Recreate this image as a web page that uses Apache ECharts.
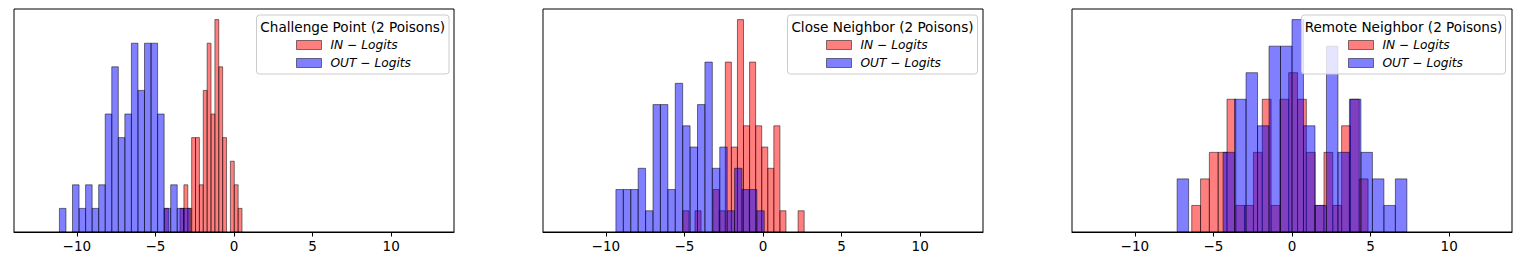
<!DOCTYPE html>
<html><head><meta charset="utf-8">
<script src="https://cdn.jsdelivr.net/npm/echarts@6/dist/echarts.min.js"></script>
<style>html,body{margin:0;padding:0;background:#fff}#c{width:1522px;height:265px}</style>
</head><body><div id="c"></div>
<script>
// ---- data ----
const xTicks = [-10, -5, 0, 5, 10];
const seriesNames = ['IN − Logits', 'OUT − Logits'];
const panelTitles = ['Challenge Point (2 Poisons)', 'Close Neighbor (2 Poisons)', 'Remote Neighbor (2 Poisons)'];

const cpInRange = [-4.42, 0.51];
const cpInCounts = [1,0,0,0,1,2,1,4,4,2,6,8,5,9,7,4,0,3,2,1];
const cpOutRange = [-11.11, -2.78];
const cpOutCounts = [1,0,2,1,2,1,2,5,7,4,5,8,6,8,8,5,1,2,1,1];

const cnInRange = [-5.10, 2.62];
const cnInCounts = [1,0,1,0,0,2,1,8,4,10,5,8,5,4,3,5,1,0,0,1];
const cnOutRange = [-9.36, 0.08];
const cnOutCounts = [2,2,2,3,1,6,6,2,7,5,4,6,8,3,4,1,3,2,2,1];

const rnInRange = [-6.38, 4.84];
const rnInCounts = [1,2,3,3,5,1,1,3,5,1,5,6,5,3,1,3,1,4,5,2];
const rnOutRange = [-7.31, 7.31];
const rnOutCounts = [2,0,0,0,3,5,6,4,7,7,8,4,1,7,3,5,3,2,1,2];

// ---- layout / style ----
const FONT = 'DejaVu Sans';
const IN_COLOR = 'rgba(255,0,0,0.5)';
const OUT_COLOR = 'rgba(0,0,255,0.5)';
const EDGE = 'rgba(0,0,0,0.5)';
const gridLefts = [14, 543, 1072];
const gridWidth = 440, gridTop = 9, gridHeight = 223;
const legendBoxes = [[256.5, 15, 192.5, 59], [787.5, 15, 190, 59], [1301.5, 15, 204, 59]];
const legendIconLeft = [296, 826, 1348];

const hists = [
  [[cpInRange, cpInCounts], [cpOutRange, cpOutCounts]],
  [[cnInRange, cnInCounts], [cnOutRange, cnOutCounts]],
  [[rnInRange, rnInCounts], [rnOutRange, rnOutCounts]]
];

function toBins(range, counts) {
  const w = (range[1] - range[0]) / counts.length;
  return counts.map((c, i) => [range[0] + i * w, range[0] + (i + 1) * w, c]);
}

function histRender(color) {
  return function (params, api) {
    const c = api.value(2);
    if (!c) return null;
    const p0 = api.coord([api.value(0), c]);
    const p1 = api.coord([api.value(1), 0]);
    return {
      type: 'rect',
      shape: { x: p0[0], y: p0[1], width: p1[0] - p0[0], height: p1[1] - p0[1] },
      style: { fill: color, stroke: EDGE, lineWidth: 1 }
    };
  };
}

const grids = [], xAxes = [], yAxes = [], series = [], legends = [], graphics = [];
hists.forEach((pair, k) => {
  grids.push({ left: gridLefts[k], top: gridTop, width: gridWidth, height: gridHeight,
    show: true, borderColor: '#000', borderWidth: 1, backgroundColor: 'transparent' });
  xAxes.push({ type: 'value', gridIndex: k, min: -14, max: 14,
    axisLine: { show: true, lineStyle: { color: '#000', width: 1 } },
    splitLine: { show: false },
    axisTick: { show: true, inside: false, length: 4.5, customValues: xTicks, lineStyle: { color: '#000', width: 1 } },
    axisLabel: { show: true, customValues: xTicks, margin: 7, fontFamily: FONT, fontSize: 13.5, color: '#000',
      formatter: v => (v < 0 ? '\u2212' + Math.abs(v) : String(v)) }
  });
  const peak = Math.max(...pair[0][1], ...pair[1][1]);
  yAxes.push({ type: 'value', gridIndex: k, min: 0, max: peak * 1.05,
    axisLine: { show: false }, axisTick: { show: false }, axisLabel: { show: false }, splitLine: { show: false } });
  [IN_COLOR, OUT_COLOR].forEach((col, j) => {
    series.push({
      type: 'custom', name: seriesNames[j], xAxisIndex: k, yAxisIndex: k,
      data: toBins(pair[j][0], pair[j][1]),
      encode: { x: [0, 1], y: 2 },
      itemStyle: { color: col, borderColor: EDGE, borderWidth: 1 },
      renderItem: histRender(col), silent: true, z: 2
    });
  });
  const b = legendBoxes[k];
  legends.push({
    left: legendIconLeft[k], top: 38, orient: 'vertical', padding: 0,
    itemWidth: 25, itemHeight: 9, itemGap: 4, icon: 'rect', selectedMode: false, z: 6,
    textStyle: { fontFamily: FONT, fontSize: 12.2, fontStyle: 'italic', color: '#000', lineHeight: 14, padding: [0, 0, 0, 4] },
    data: seriesNames.map((n, j) => ({ name: n, icon: 'rect',
      itemStyle: { color: j ? OUT_COLOR : IN_COLOR, borderColor: EDGE, borderWidth: 1 } }))
  });
  graphics.push({ type: 'rect', z: 5, shape: { x: b[0], y: b[1], width: b[2], height: b[3], r: 3 },
    style: { fill: 'rgba(255,255,255,0.8)', stroke: '#cccccc', lineWidth: 1 } });
  graphics.push({ type: 'text', z: 7, x: b[0] + b[2] / 2, y: 27,
    style: { text: panelTitles[k], fontFamily: FONT, fontSize: 13.6, fill: '#000',
      align: 'center', verticalAlign: 'middle', textAlign: 'center', textVerticalAlign: 'middle' } });
});

const chart = echarts.init(document.getElementById('c'), null, { renderer: 'svg' });
chart.setOption({
  animation: false,
  backgroundColor: '#fff',
  grid: grids, xAxis: xAxes, yAxis: yAxes, series: series, legend: legends,
  graphic: { elements: graphics }
});
</script></body></html>
